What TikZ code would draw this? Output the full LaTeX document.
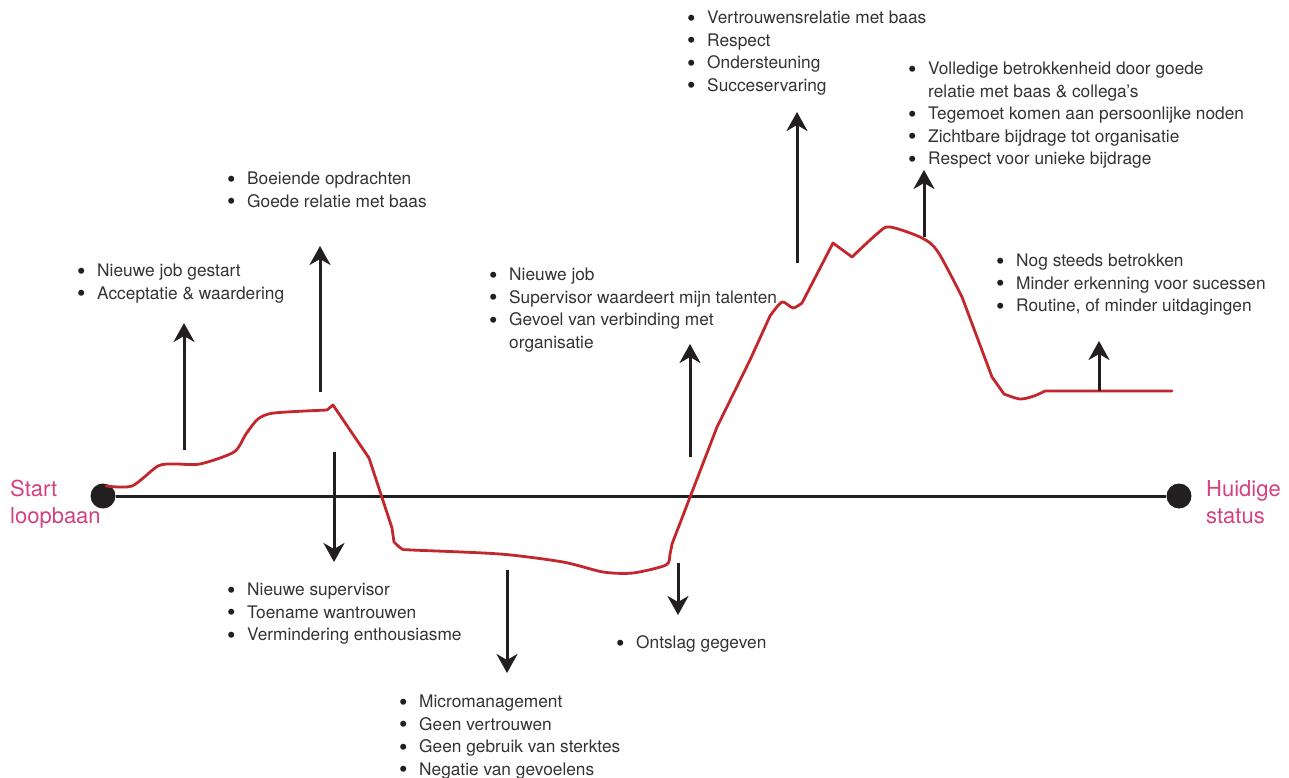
\documentclass[tikz,border=0pt]{standalone}
\usepackage{fontspec}
\setmainfont{TeX Gyre Heros}
\usetikzlibrary{arrows.meta}
\definecolor{kurverot}{HTML}{C1272D}
\definecolor{roze}{HTML}{D4417E}
\definecolor{zwart}{HTML}{231F20}
\definecolor{tekst}{HTML}{333333}
\tikzset{
  pijl/.style={-{Stealth[length=19pt,width=21pt,inset=6pt]},zwart,line width=3pt},
  as/.style={zwart,line width=3pt},
  kurve/.style={kurverot,line width=2.8pt,line join=round,line cap=round},
  lijst/.style={anchor=north west,inner sep=0pt,align=left,text=tekst,
    font=\fontsize{17.3}{22.5}\selectfont},
  eindtekst/.style={anchor=north west,inner sep=0pt,align=left,text=roze,
    font=\fontsize{22}{27}\selectfont},
  punt/.style={circle,fill=zwart,minimum size=25pt,inner sep=0pt},
}
\newcommand{\bul}{\makebox[19pt][l]{\hspace*{-1pt}\raisebox{-2.3pt}{\fontsize{24}{22}\selectfont\textcolor{zwart}{\textbullet}}}}
\newcommand{\ins}{\hspace*{19pt}}

\begin{document}
\begin{tikzpicture}[x=1pt,y=-1pt]
  \useasboundingbox (0,0) rectangle (1289,778);
  % tijdslijn
  \node[punt] (start) at (103,496) {};
  \node[punt] (nu) at (1179,496) {};
  \draw[as] (start) -- (nu);
  \node[eindtekst] (startlbl) at (10,477) {\strut Start\\loopbaan};
  \node[eindtekst] (nulbl) at (1206,477) {\strut Huidige\\status};
  % verloop
  \draw[kurve] plot[smooth,tension=.45] coordinates {(106,486) (132,486) (158,466) (175,464) (200,464) (234,452)
      (246,434) (258,419) (274,413) (327,410)}
    -- (333,405) -- (369,458) -- (392,528)
    -- plot[smooth,tension=.45] coordinates {(394,542) (402,549) (412,550) (500,554) (563,562)
      (603,572) (633,573) (666,565) (670,554) (672,544)}
    -- (717,427) -- (750,360)
    -- plot[smooth,tension=.45] coordinates {(770,316) (782,302) (793,308) (802,303)}
    -- (833,243)
    -- plot[smooth,tension=.5] coordinates {(852,257) (878,233) (890,227) (922,238) (938,252) (962,297)}
    -- (992,377)
    -- plot[smooth,tension=.5] coordinates {(1004,394) (1020,399) (1034,396) (1045,391)}
    -- (1172,391);
  % pijlen
  \coordinate (p1a) at (184,450);  \coordinate (p1b) at (184,323);
  \coordinate (p2a) at (320,392);  \coordinate (p2b) at (320,246);
  \coordinate (p3a) at (334,452);  \coordinate (p3b) at (334,562);
  \coordinate (p4a) at (507,570);  \coordinate (p4b) at (507,673);
  \coordinate (p5a) at (690,457);  \coordinate (p5b) at (690,344);
  \coordinate (p6a) at (678,563);  \coordinate (p6b) at (678,615);
  \coordinate (p7a) at (797,263);  \coordinate (p7b) at (797,112);
  \coordinate (p8a) at (924,237);  \coordinate (p8b) at (924,170);
  \coordinate (p9a) at (1099,391); \coordinate (p9b) at (1099,341);
  \foreach \i in {1,...,9}
    \draw[pijl] (p\i a) -- (p\i b);
  % teksten
  \node[lijst] (nieuwejob) at (78,261) {\strut\bul Nieuwe job gestart\\\bul Acceptatie \& waardering};
  \node[lijst] (boeiend) at (228,169) {\strut\bul Boeiende opdrachten\\\bul Goede relatie met baas};
  \node[lijst] (supervisor) at (228,580) {\strut\bul Nieuwe supervisor\\\bul Toename wantrouwen\\\bul Vermindering enthousiasme};
  \node[lijst] (micro) at (400,692) {\strut\bul Micromanagement\\\bul Geen vertrouwen\\\bul Geen gebruik van sterktes\\\bul Negatie van gevoelens};
  \node[lijst] (ontslag) at (617,633) {\strut\bul Ontslag gegeven};
  \node[lijst] (tweedejob) at (490,265) {\strut\bul Nieuwe job\\\bul Supervisor waardeert mijn talenten\\\bul Gevoel van verbinding met\\\ins organisatie};
  \node[lijst] (vertrouwen) at (688,8) {\strut\bul Vertrouwensrelatie met baas\\\bul Respect\\\bul Ondersteuning\\\bul Succeservaring};
  \node[lijst] (betrokken) at (909,59) {\strut\bul Volledige betrokkenheid door goede\\\ins relatie met baas \& collega’s\\\bul Tegemoet komen aan persoonlijke noden\\\bul Zichtbare bijdrage tot organisatie\\\bul Respect voor unieke bijdrage};
  \node[lijst] (nogsteeds) at (997,251) {\strut\bul Nog steeds betrokken\\\bul Minder erkenning voor sucessen\\\bul Routine, of minder uitdagingen};
\end{tikzpicture}
\end{document}
